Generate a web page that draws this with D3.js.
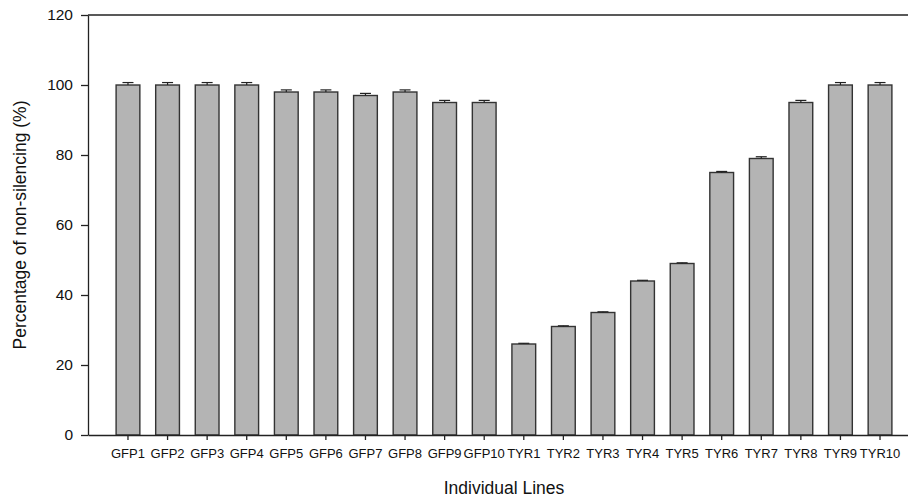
<!DOCTYPE html>
<html>
<head>
<meta charset="utf-8">
<script src="https://cdn.jsdelivr.net/npm/d3@7"></script>
<style>
  html, body { margin: 0; padding: 0; background: #fff; }
  svg { display: block; font-family: "Liberation Sans", Arial, sans-serif; }
</style>
</head>
<body>
<svg id="chart" width="908" height="498"></svg>
<script>
// Silencing results per line: mean percentage and its standard error
const lines = ["GFP1","GFP2","GFP3","GFP4","GFP5","GFP6","GFP7","GFP8","GFP9","GFP10",
               "TYR1","TYR2","TYR3","TYR4","TYR5","TYR6","TYR7","TYR8","TYR9","TYR10"];
const nonSilencing = [100, 100, 100, 100, 98, 98, 97, 98, 95, 95,
                      26, 31, 35, 44, 49, 75, 79, 95, 100, 100];
const stdError = [0.7, 0.7, 0.7, 0.7, 0.6, 0.6, 0.6, 0.6, 0.6, 0.6,
                  0.2, 0.2, 0.2, 0.2, 0.2, 0.3, 0.5, 0.6, 0.7, 0.7];
const yTicks = [0, 20, 40, 60, 80, 100, 120];

const svg = d3.select("#chart");
const plotLeft = 88, plotTop = 15, plotBottom = 435, plotRight = 920;

const x = d3.scaleBand()
  .domain(lines)
  .range([plotLeft, plotRight])
  .paddingInner(0.4)
  .paddingOuter(0.71);

const y = d3.scaleLinear().domain([0, 120]).range([plotBottom, plotTop]);

// bars
svg.append("g").selectAll("rect")
  .data(lines)
  .join("rect")
  .attr("x", d => x(d))
  .attr("y", (d, i) => y(nonSilencing[i]))
  .attr("width", x.bandwidth())
  .attr("height", (d, i) => y(0) - y(nonSilencing[i]))
  .attr("fill", "#b4b4b4")
  .attr("stroke", "#333")
  .attr("stroke-width", 1.4);

// error bars (upper only)
const err = svg.append("g").attr("stroke", "#222").attr("stroke-width", 1.2);
lines.forEach((d, i) => {
  const cx = x(d) + x.bandwidth() / 2;
  const yTop = y(nonSilencing[i] + stdError[i]);
  err.append("line").attr("x1", cx).attr("x2", cx)
    .attr("y1", y(nonSilencing[i])).attr("y2", yTop);
  err.append("line").attr("x1", cx - 5.5).attr("x2", cx + 5.5)
    .attr("y1", yTop).attr("y2", yTop);
});

// axes
const yAxis = svg.append("g")
  .attr("transform", `translate(${plotLeft},0)`)
  .call(d3.axisLeft(y).tickValues(yTicks).tickSize(7).tickPadding(8).tickSizeOuter(0));
yAxis.selectAll("text").attr("font-size", 15.5).attr("fill", "#111")
  .attr("font-family", "'Liberation Sans', Arial, sans-serif");

const xAxis = svg.append("g")
  .attr("transform", `translate(0,${plotBottom})`)
  .call(d3.axisBottom(x).tickSize(5).tickPadding(9).tickSizeOuter(0));
xAxis.selectAll("text").attr("font-size", 13).attr("fill", "#111")
  .attr("font-family", "'Liberation Sans', Arial, sans-serif");

svg.selectAll(".domain, .tick line").attr("stroke", "#222").attr("stroke-width", 1.3);

// top frame line
svg.append("line")
  .attr("x1", plotLeft).attr("x2", plotRight)
  .attr("y1", y(120)).attr("y2", y(120))
  .attr("stroke", "#222").attr("stroke-width", 1.3);

// axis titles
svg.append("text")
  .attr("x", 504).attr("y", 494)
  .attr("text-anchor", "middle")
  .attr("font-size", 17.5).attr("fill", "#111")
  .text("Individual Lines");

svg.append("text")
  .attr("transform", "translate(26,225) rotate(-90)")
  .attr("text-anchor", "middle")
  .attr("font-size", 17.5).attr("fill", "#111")
  .text("Percentage of non-silencing (%)");
</script>
</body>
</html>
